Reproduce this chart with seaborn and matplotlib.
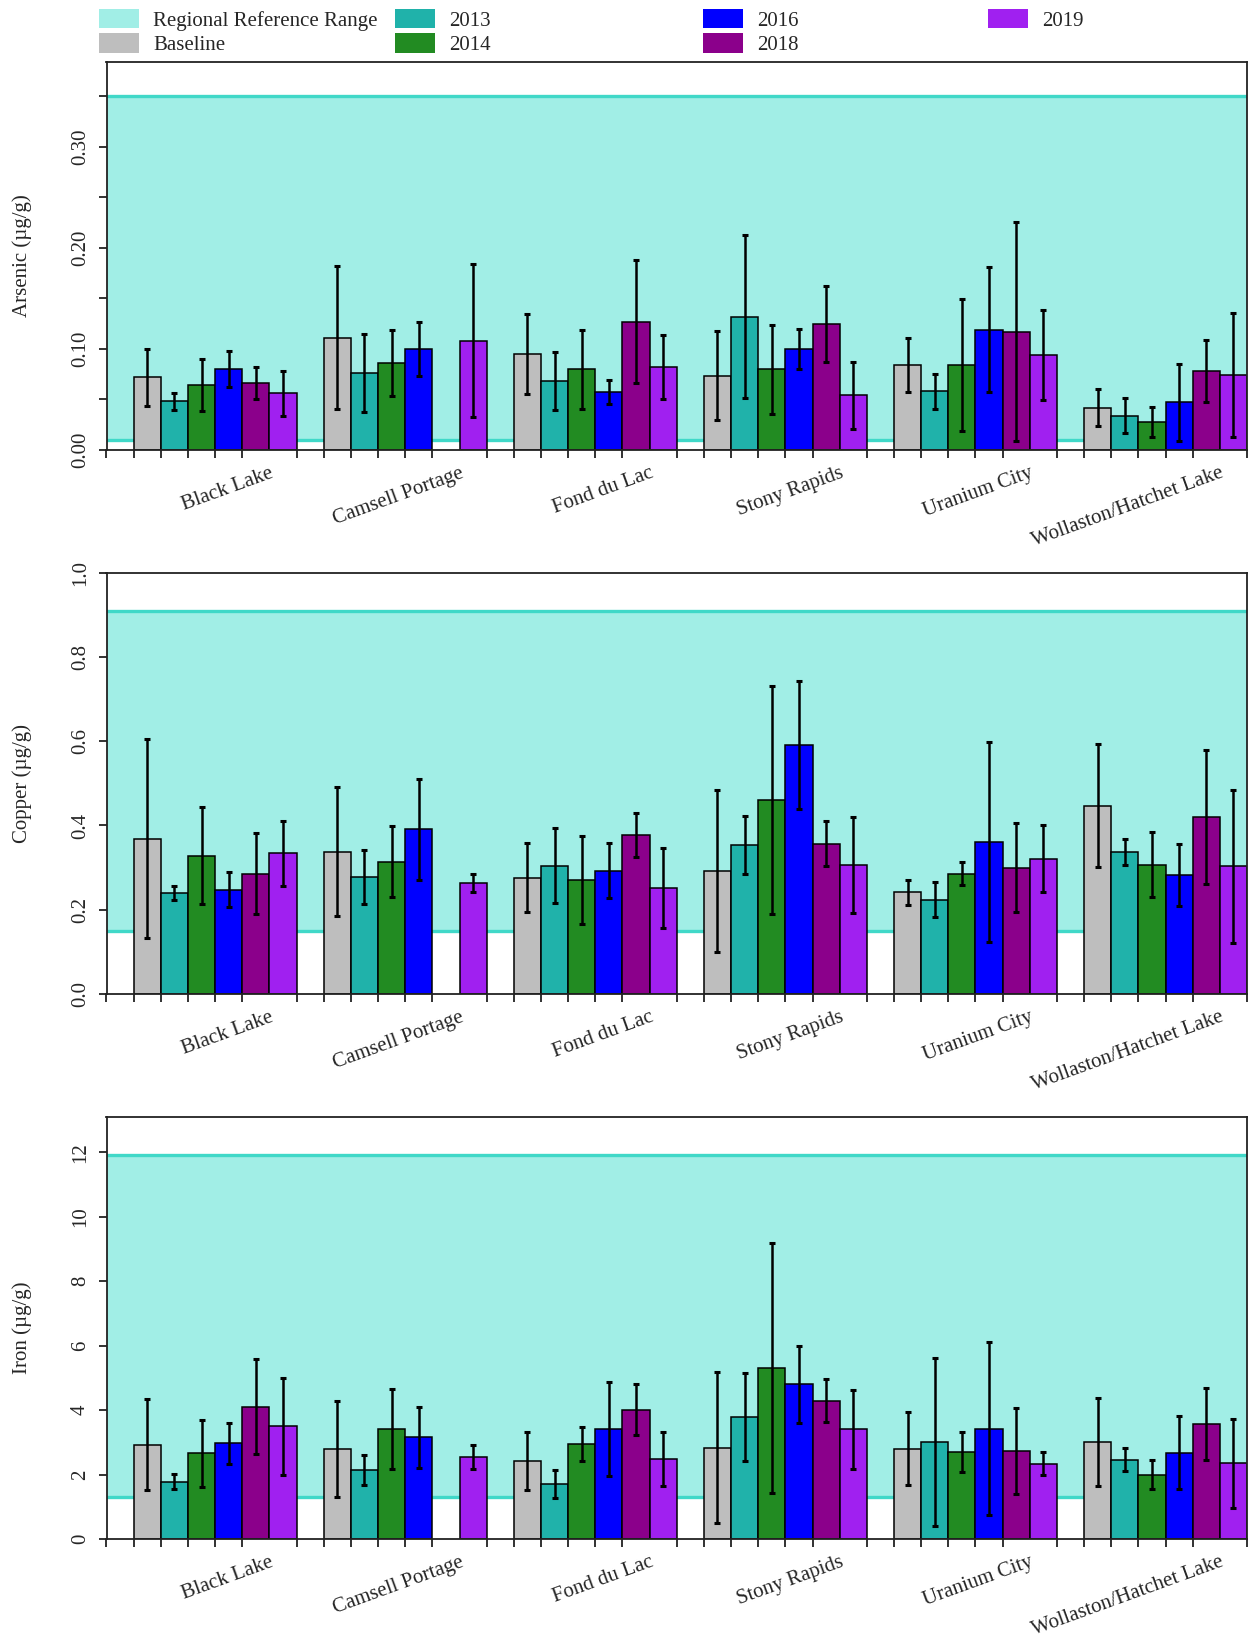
import numpy as np
import pandas as pd
import matplotlib
matplotlib.use('Agg')
import matplotlib.pyplot as plt
import seaborn as sns
from matplotlib.patches import Patch

sites = ['Black Lake', 'Camsell Portage', 'Fond du Lac', 'Stony Rapids',
         'Uranium City', 'Wollaston/Hatchet Lake']
years = ['Baseline', '2013', '2014', '2016', '2018', '2019']
year_colors = ['#BEBEBE', '#20B2AA', '#228B22', '#0000FF', '#8B008B', '#A020F0']
range_fill = '#A1EEE6'
range_line = '#40D8C8'
nan = np.nan

# rows = years (Baseline..2019), columns = sites
arsenic_mean = [
    [0.072, 0.111, 0.095, 0.0735, 0.084, 0.042],
    [0.048, 0.076, 0.068, 0.132, 0.058, 0.034],
    [0.064, 0.086, 0.080, 0.080, 0.084, 0.028],
    [0.080, 0.100, 0.057, 0.100, 0.119, 0.047],
    [0.066, nan, 0.127, 0.125, 0.117, 0.078],
    [0.056, 0.108, 0.082, 0.054, 0.094, 0.074],
]
arsenic_err = [
    [0.028, 0.0705, 0.0395, 0.044, 0.0265, 0.0185],
    [0.0085, 0.0385, 0.0285, 0.0805, 0.017, 0.017],
    [0.0255, 0.0325, 0.039, 0.044, 0.0655, 0.015],
    [0.0175, 0.0265, 0.012, 0.020, 0.0615, 0.038],
    [0.016, nan, 0.061, 0.0375, 0.108, 0.0305],
    [0.022, 0.0755, 0.0315, 0.033, 0.0445, 0.061],
]
copper_mean = [
    [0.369, 0.338, 0.276, 0.292, 0.241, 0.447],
    [0.240, 0.278, 0.304, 0.353, 0.224, 0.338],
    [0.328, 0.314, 0.270, 0.461, 0.285, 0.307],
    [0.247, 0.391, 0.293, 0.591, 0.360, 0.283],
    [0.285, nan, 0.377, 0.357, 0.300, 0.421],
    [0.334, 0.263, 0.251, 0.306, 0.321, 0.303],
]
copper_err = [
    [0.236, 0.154, 0.082, 0.192, 0.0295, 0.146],
    [0.0165, 0.064, 0.089, 0.0687, 0.0415, 0.031],
    [0.1155, 0.084, 0.1045, 0.271, 0.0273, 0.077],
    [0.0415, 0.120, 0.065, 0.1515, 0.237, 0.073],
    [0.096, nan, 0.0525, 0.053, 0.106, 0.159],
    [0.0765, 0.022, 0.0953, 0.114, 0.0795, 0.181],
]
iron_mean = [
    [2.917, 2.793, 2.420, 2.834, 2.793, 3.000],
    [1.779, 2.131, 1.717, 3.776, 3.000, 2.462],
    [2.658, 3.403, 2.938, 5.307, 2.690, 1.996],
    [2.969, 3.155, 3.403, 4.800, 3.424, 2.679],
    [4.107, nan, 4.014, 4.293, 2.741, 3.558],
    [3.496, 2.534, 2.483, 3.403, 2.338, 2.348],
]
iron_err = [
    [1.412, 1.495, 0.906, 2.338, 1.132, 1.360],
    [0.233, 0.466, 0.430, 1.366, 2.612, 0.362],
    [1.040, 1.240, 0.533, 3.870, 0.620, 0.450],
    [0.632, 0.941, 1.459, 1.190, 2.695, 1.130],
    [1.485, nan, 0.790, 0.678, 1.335, 1.117],
    [1.510, 0.378, 0.828, 1.226, 0.367, 1.381],
]

arsenic_range = (0.01, 0.35)
copper_range = (0.15, 0.91)
iron_range = (1.3, 11.9)

sns.set_style('ticks')
plt.rcParams['font.family'] = ['Liberation Serif', 'DejaVu Serif']
plt.rcParams['font.size'] = 15


def long_table(mean, err):
    rows = []
    for i, yr in enumerate(years):
        for j, site in enumerate(sites):
            if not np.isnan(mean[i][j]):
                rows.append({'site': site, 'year': yr, 'value': mean[i][j], 'err': err[i][j]})
    return pd.DataFrame(rows)


def draw_panel(ax, mean, err, ref, ylabel, ymax, ticks, ticklabels):
    df = long_table(mean, err)
    ax.axhspan(ref[0], ref[1], color=range_fill, zorder=0.2, lw=0)
    ax.axhline(ref[0], color=range_line, lw=2.4, zorder=0.3)
    ax.axhline(ref[1], color=range_line, lw=2.4, zorder=0.3)
    sns.barplot(data=df, x='site', y='value', hue='year', order=sites, hue_order=years,
                palette=year_colors, saturation=1, width=6 / 7, errorbar=None,
                edgecolor='black', linewidth=1.1, legend=False, ax=ax, zorder=1)
    # error bars from the drawn bars
    lookup = {(r.year, r.site): r.err for r in df.itertuples()}
    for yr, cont in zip(years, ax.containers):
        for bar in cont:
            h = bar.get_height()
            if np.isnan(h):
                continue
            xc = bar.get_x() + bar.get_width() / 2
            site = sites[int(round(xc))]
            e = lookup.get((yr, site))
            if e is None:
                continue
            ax.errorbar(xc, h, yerr=e, fmt='none', ecolor='black', elinewidth=1.8,
                        capsize=2.2, capthick=2.2, zorder=3)
    n = len(sites)
    ax.set_xlim(-4 / 7, n - 1 + 3 / 7)
    ax.set_ylim(0, ymax)
    # labels on major ticks (no tick line), bar-edge ticks as minor
    ax.set_xticks(np.arange(n) + 2 / 7)
    ax.set_xticklabels(sites, rotation=20, ha='right', rotation_mode='anchor', fontsize=15)
    ax.set_xticks(np.arange(7 * n + 1) / 7 - 4 / 7, minor=True)
    ax.tick_params(axis='x', which='major', length=0, pad=10)
    ax.tick_params(axis='x', which='minor', length=6, width=1.3, color='#222222')
    ax.set_yticks(ticks)
    ax.set_yticklabels(ticklabels, rotation=90, va='center', fontsize=15)
    ax.tick_params(axis='y', length=6, width=1.3, color='#222222', pad=6)
    ax.set_xlabel('')
    ax.set_ylabel(ylabel, fontsize=15, labelpad=28)
    for sp in ax.spines.values():
        sp.set_visible(True)
        sp.set_color('#222222')
        sp.set_linewidth(1.3)
        sp.set_zorder(5)


fig = plt.figure(figsize=(12.49, 16.38), dpi=100)
W, H = 1249, 1638
left, right = 106.5 / W, 1247 / W
ax1 = fig.add_axes([left, 1 - 450 / H, right - left, (450 - 61.7) / H])
ax2 = fig.add_axes([left, 1 - 994 / H, right - left, (994 - 572.7) / H])
ax3 = fig.add_axes([left, 1 - 1539 / H, right - left, (1539 - 1116.7) / H])

draw_panel(ax1, arsenic_mean, arsenic_err, arsenic_range, 'Arsenic (µg/g)', 0.384,
           np.arange(0, 0.36, 0.05), ['0.00', '', '0.10', '', '0.20', '', '0.30', ''])
draw_panel(ax2, copper_mean, copper_err, copper_range, 'Copper (µg/g)', 1.0,
           np.arange(0, 1.01, 0.2), ['0.0', '0.2', '0.4', '0.6', '0.8', '1.0'])
draw_panel(ax3, iron_mean, iron_err, iron_range, 'Iron (µg/g)', 13.1,
           np.arange(0, 13, 2), ['0', '2', '4', '6', '8', '10', '12'])

# legend, four columns like the original
handles = [Patch(facecolor=range_fill, edgecolor='none')] + \
          [Patch(facecolor=c, edgecolor='none') for c in year_colors]
labels = ['Regional Reference Range'] + years
columns = [[0, 1], [2, 3], [4, 5], [6]]
col_x = [99, 395, 703, 988]
for idx, x in zip(columns, col_x):
    fig.legend([handles[i] for i in idx], [labels[i] for i in idx],
               loc='upper left', bbox_to_anchor=(x / W, 1 - 9 / H), frameon=False,
               borderpad=0, borderaxespad=0, handlelength=1.9, handleheight=1.05,
               handletextpad=0.7, labelspacing=0.12, fontsize=15)

fig.savefig('out.png', dpi=100)
